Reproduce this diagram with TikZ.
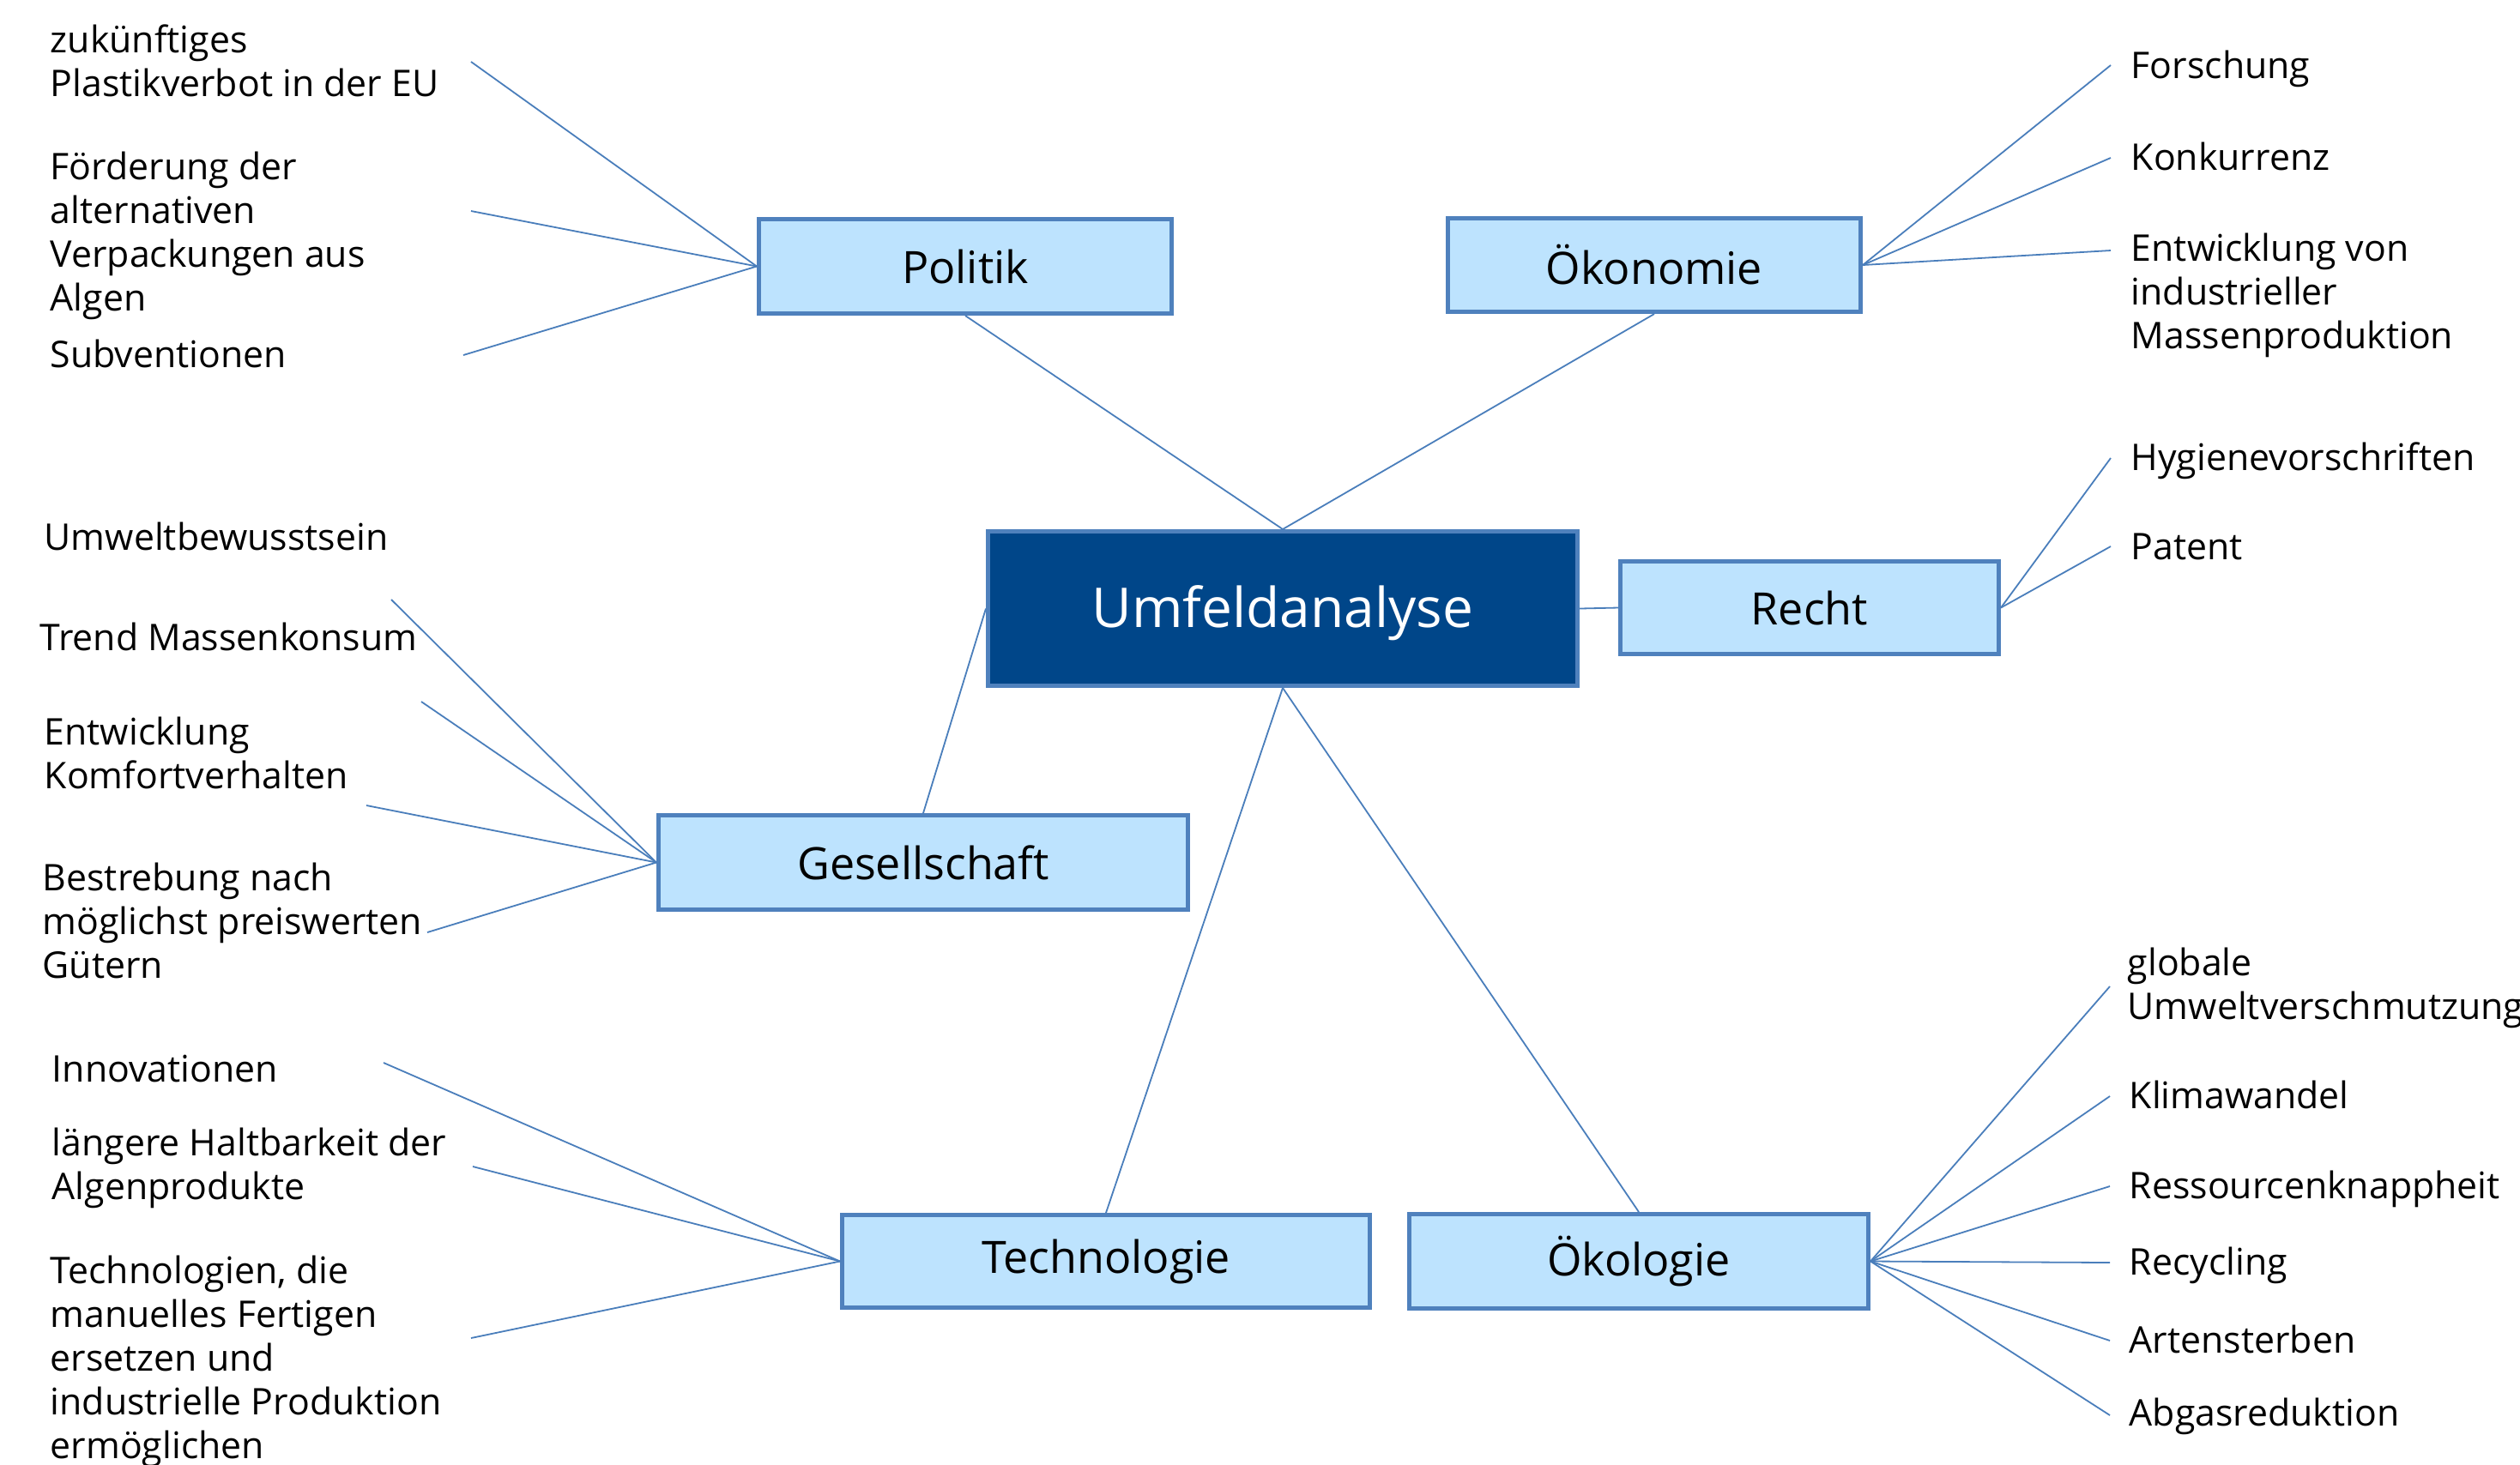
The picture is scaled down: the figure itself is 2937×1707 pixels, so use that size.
\documentclass[tikz,border=0pt]{standalone}
\usepackage{fontspec}
\setmainfont{Open Sans}
\definecolor{boxfill}{RGB}{189,227,254}
\definecolor{boxline}{RGB}{79,129,189}
\definecolor{darkfill}{RGB}{0,70,137}
\definecolor{conn}{RGB}{74,126,187}
\begin{document}
\begin{tikzpicture}[x=0.25pt,y=-0.25pt,
  topic/.style={draw=boxline,fill=boxfill,line width=1.25pt,inner sep=0pt,
    font=\fontsize{13pt}{15pt}\selectfont,text=black},
  core/.style={draw=boxline,fill=darkfill,line width=1.25pt,inner sep=0pt,
    font=\fontsize{16pt}{19pt}\selectfont,text=white,text height=15pt,text depth=3.8pt},
  leaf/.style={anchor=base west,align=left,inner sep=0pt,
    font=\fontsize{10.7pt}{12.7pt}\selectfont},
  link/.style={draw=conn,line width=0.45pt}]
\useasboundingbox (0,0) rectangle (2937,1707);

% main boxes
\node[core,minimum width=171.75pt,minimum height=45pt] (um) at (1495,709.5) {Umfeldanalyse};
\node[topic,minimum width=120.25pt,minimum height=27.5pt] (po) at (1125,310.5) {Politik};
\node[topic,minimum width=120.25pt,minimum height=27.25pt] (ok) at (1928,309) {Ökonomie};
\node[topic,minimum width=110.25pt,minimum height=27pt] (re) at (2109,708.5) {Recht};
\node[topic,minimum width=154.25pt,minimum height=27.5pt] (ge) at (1076,1005.5) {Gesellschaft};
\node[topic,minimum width=153.75pt,minimum height=27pt] (te) at (1289,1470.5) {Technologie};
\node[topic,minimum width=133.75pt,minimum height=27.5pt] (oe) at (1910,1470.5) {Ökologie};

% main connectors
\draw[link] (po.south) -- (um.north);
\draw[link] (ok.south) -- (um.north);
\draw[link] (um.east) -- (re.west);
\draw[link] (um.west) -- (ge.north);
\draw[link] (um.south) -- (te.north);
\draw[link] (um.south) -- (oe.north);

% Politik (anchor = baseline of last line)
\node[leaf] (p1) at (58,112) {zukünftiges\\Plastikverbot in der EU};
\node[leaf] (p2) at (58,362) {Förderung der\\alternativen\\Verpackungen aus\\Algen};
\node[leaf] (p3) at (58,428) {Subventionen};
\coordinate (p1e) at (549,72);
\coordinate (p2e) at (549,246);
\coordinate (p3e) at (540,414);
\foreach \e in {p1e,p2e,p3e} \draw[link] (po.west) -- (\e);

% Oekonomie
\node[leaf] (k1) at (2483,91) {Forschung};
\node[leaf] (k2) at (2483,198) {Konkurrenz};
\node[leaf] (k3) at (2483,406) {Entwicklung von\\industrieller\\Massenproduktion};
\coordinate (k1e) at (2460,76);
\coordinate (k2e) at (2460,184);
\coordinate (k3e) at (2460,292);
\foreach \e in {k1e,k2e,k3e} \draw[link] (ok.east) -- (\e);

% Recht
\node[leaf] (r1) at (2483,548) {Hygienevorschriften};
\node[leaf] (r2) at (2483,652) {Patent};
\coordinate (r1e) at (2460,534);
\coordinate (r2e) at (2460,637);
\foreach \e in {r1e,r2e} \draw[link] (re.east) -- (\e);

% Gesellschaft
\node[leaf] (g1) at (51,641) {Umweltbewusstsein};
\node[leaf] (g2) at (46,758) {Trend Massenkonsum};
\node[leaf] (g3) at (51,919) {Entwicklung\\Komfortverhalten};
\node[leaf] (g4) at (49,1140) {Bestrebung nach\\möglichst preiswerten\\Gütern};
\coordinate (g1e) at (456,699);
\coordinate (g2e) at (491,818);
\coordinate (g3e) at (427,939);
\coordinate (g4e) at (498,1087);
\foreach \e in {g1e,g2e,g3e,g4e} \draw[link] (ge.west) -- (\e);

% Technologie
\node[leaf] (t1) at (60,1261) {Innovationen};
\node[leaf] (t2) at (60,1398) {längere Haltbarkeit der\\Algenprodukte};
\node[leaf] (t3) at (58,1700) {Technologien, die\\manuelles Fertigen\\ersetzen und\\industrielle Produktion\\ermöglichen};
\coordinate (t1e) at (447,1239);
\coordinate (t2e) at (551,1360);
\coordinate (t3e) at (549,1560);
\foreach \e in {t1e,t2e,t3e} \draw[link] (te.west) -- (\e);

% Oekologie
\node[leaf] (e1) at (2479,1188) {globale\\Umweltverschmutzung};
\node[leaf] (e2) at (2481,1292) {Klimawandel};
\node[leaf] (e3) at (2481,1397) {Ressourcenknappheit};
\node[leaf] (e4) at (2481,1486) {Recycling};
\node[leaf] (e5) at (2481,1577) {Artensterben};
\node[leaf] (e6) at (2481,1662) {Abgasreduktion};
\coordinate (e1e) at (2459,1150);
\coordinate (e2e) at (2459,1278);
\coordinate (e3e) at (2459,1383);
\coordinate (e4e) at (2459,1472);
\coordinate (e5e) at (2459,1563);
\coordinate (e6e) at (2459,1650);
\foreach \e in {e1e,e2e,e3e,e4e,e5e,e6e} \draw[link] (oe.east) -- (\e);
\end{tikzpicture}
\end{document}
